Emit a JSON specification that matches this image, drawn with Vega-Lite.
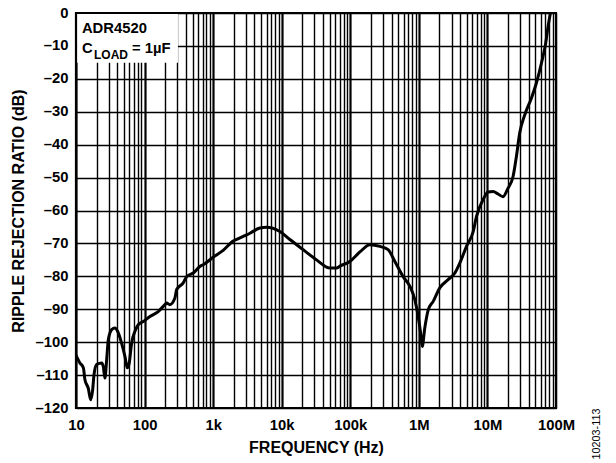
{
  "$schema": "https://vega.github.io/schema/vega-lite/v6.json",
  "width": 480,
  "height": 395,
  "autosize": {"type": "none"},
  "padding": {"left": 76, "top": 13, "right": 60, "bottom": 55},
  "background": "white",
  "config": {
    "font": "Liberation Sans",
    "view": {"stroke": "#000", "strokeWidth": 2.2},
    "axis": {
      "labelFont": "Liberation Sans",
      "titleFont": "Liberation Sans",
      "labelFontWeight": "bold",
      "titleFontWeight": "bold",
      "labelColor": "#000",
      "titleColor": "#000",
      "labelFontSize": 14.8,
      "titleFontSize": 16,
      "gridColor": "#000",
      "gridOpacity": 1,
      "ticks": false,
      "domain": false,
      "labelFlush": false,
      "labelOverlap": false
    }
  },
  "resolve": {"axis": {"x": "independent", "y": "independent"}},
  "layer": [
    {
      "data": {"values": [
        {"freq": 10, "rrr": -104}, {"freq": 11.4, "rrr": -106.3}, {"freq": 12.8, "rrr": -107.8},
        {"freq": 13.5, "rrr": -111.4}, {"freq": 15.1, "rrr": -114.0}, {"freq": 16.4, "rrr": -117.5},
        {"freq": 17.5, "rrr": -114.5}, {"freq": 18.3, "rrr": -109.9}, {"freq": 20.0, "rrr": -106.8},
        {"freq": 23.7, "rrr": -106.3}, {"freq": 25.0, "rrr": -107.4}, {"freq": 26.4, "rrr": -110.9},
        {"freq": 28.0, "rrr": -105.4}, {"freq": 29.6, "rrr": -99.3}, {"freq": 33.1, "rrr": -96.2},
        {"freq": 37.0, "rrr": -95.7}, {"freq": 41.4, "rrr": -97.2}, {"freq": 46.2, "rrr": -100.3},
        {"freq": 51.8, "rrr": -104.4}, {"freq": 56.0, "rrr": -107.8}, {"freq": 59.8, "rrr": -106.3},
        {"freq": 64.7, "rrr": -100.3}, {"freq": 72.4, "rrr": -96.7}, {"freq": 80.9, "rrr": -94.7},
        {"freq": 95.7, "rrr": -93.7}, {"freq": 120, "rrr": -92.2}, {"freq": 158, "rrr": -90.7},
        {"freq": 198, "rrr": -88.6}, {"freq": 210, "rrr": -88.1}, {"freq": 234, "rrr": -88.6},
        {"freq": 277, "rrr": -86.6}, {"freq": 294, "rrr": -84.0}, {"freq": 366, "rrr": -82.0},
        {"freq": 410, "rrr": -80.1}, {"freq": 513, "rrr": -79.0}, {"freq": 641, "rrr": -77.0},
        {"freq": 716, "rrr": -76.5}, {"freq": 1000, "rrr": -74.2}, {"freq": 1400, "rrr": -72.1},
        {"freq": 1960, "rrr": -69.3}, {"freq": 2200, "rrr": -68.8}, {"freq": 3080, "rrr": -67.4},
        {"freq": 3440, "rrr": -66.9}, {"freq": 4810, "rrr": -65.3}, {"freq": 6010, "rrr": -65.1},
        {"freq": 9400, "rrr": -66.4}, {"freq": 13150, "rrr": -68.8}, {"freq": 20560, "rrr": -71.9},
        {"freq": 32200, "rrr": -75.0}, {"freq": 50400, "rrr": -77.5}, {"freq": 63100, "rrr": -77.5},
        {"freq": 70500, "rrr": -76.9}, {"freq": 98600, "rrr": -75.5}, {"freq": 138000, "rrr": -72.6},
        {"freq": 193000, "rrr": -70.4}, {"freq": 270000, "rrr": -70.9}, {"freq": 356000, "rrr": -71.9},
        {"freq": 447000, "rrr": -75.5}, {"freq": 590000, "rrr": -80.1}, {"freq": 738000, "rrr": -83.0},
        {"freq": 873000, "rrr": -87.1}, {"freq": 977000, "rrr": -92.2}, {"freq": 1060000, "rrr": -97.2},
        {"freq": 1120000, "rrr": -101.3}, {"freq": 1220000, "rrr": -95.7}, {"freq": 1370000, "rrr": -90.2},
        {"freq": 1620000, "rrr": -87.6}, {"freq": 2020000, "rrr": -83.5}, {"freq": 2670000, "rrr": -81.0},
        {"freq": 3350000, "rrr": -79.0}, {"freq": 3950000, "rrr": -76.0}, {"freq": 4950000, "rrr": -70.9},
        {"freq": 6200000, "rrr": -66.4}, {"freq": 6930000, "rrr": -61.8}, {"freq": 8650000, "rrr": -56.7},
        {"freq": 10200000, "rrr": -54.4}, {"freq": 12100000, "rrr": -54.2}, {"freq": 14300000, "rrr": -55.0},
        {"freq": 16900000, "rrr": -55.8}, {"freq": 20000000, "rrr": -53.2}, {"freq": 23700000, "rrr": -49.6},
        {"freq": 26500000, "rrr": -43.5}, {"freq": 29600000, "rrr": -36.4}, {"freq": 35100000, "rrr": -30.9},
        {"freq": 43900000, "rrr": -25.8}, {"freq": 51900000, "rrr": -21.2}, {"freq": 61400000, "rrr": -15.2},
        {"freq": 71000000, "rrr": -9.0}, {"freq": 76700000, "rrr": -4.0}, {"freq": 83000000, "rrr": 0}
      ]},
      "mark": {"type": "line", "color": "#000", "strokeWidth": 3, "strokeJoin": "round", "strokeCap": "round", "interpolate": "monotone", "clip": true},
      "encoding": {
        "x": {
          "field": "freq", "type": "quantitative",
          "scale": {"type": "log", "domain": [10, 100000000], "nice": false},
          "axis": {
            "title": "FREQUENCY (Hz)",
            "values": [10,20,30,40,50,60,70,80,90,100,200,300,400,500,600,700,800,900,1000,2000,3000,4000,5000,6000,7000,8000,9000,10000,20000,30000,40000,50000,60000,70000,80000,90000,100000,200000,300000,400000,500000,600000,700000,800000,900000,1000000,2000000,3000000,4000000,5000000,6000000,7000000,8000000,9000000,10000000,20000000,30000000,40000000,50000000,60000000,70000000,80000000,90000000,100000000],
            "labelExpr": "datum.value == 10 ? '10' : datum.value == 100 ? '100' : datum.value == 1000 ? '1k' : datum.value == 10000 ? '10k' : datum.value == 100000 ? '100k' : datum.value == 1000000 ? '1M' : datum.value == 10000000 ? '10M' : datum.value == 100000000 ? '100M' : ''",
            "gridWidth": {"condition": {"test": "indexof([10,100,1000,10000,100000,1000000,10000000], datum.value) >= 0", "value": 2.2}, "value": 1.4},
            "labelPadding": 9,
            "titlePadding": 8
          }
        },
        "y": {
          "field": "rrr", "type": "quantitative",
          "scale": {"domain": [-120, 0], "nice": false},
          "axis": {
            "title": "RIPPLE REJECTION RATIO (dB)",
            "values": [-120,-110,-100,-90,-80,-70,-60,-50,-40,-30,-20,-10,0],
            "labelExpr": "datum.value < 0 ? '–' + abs(datum.value) : '0'",
            "gridWidth": 1.5,
            "labelPadding": 8,
            "titlePadding": 9
          }
        }
      }
    },
    {
      "data": {"values": [{}]},
      "mark": {"type": "rect", "color": "white"},
      "encoding": {
        "x": {"datum": 10.4, "axis": null}, "x2": {"datum": 307},
        "y": {"datum": -15.1, "axis": null}, "y2": {"datum": -0.34}
      }
    },
    {
      "data": {"values": [{}]},
      "mark": {"type": "text", "text": "ADR4520", "align": "left", "baseline": "alphabetic", "fontSize": 14.8, "fontWeight": "bold", "color": "#000"},
      "encoding": {"x": {"datum": 12.2, "axis": null}, "y": {"datum": -6.0, "axis": null}}
    },
    {
      "data": {"values": [{}]},
      "mark": {"type": "text", "text": "C", "align": "left", "baseline": "alphabetic", "fontSize": 14.8, "fontWeight": "bold", "color": "#000"},
      "encoding": {"x": {"datum": 12.2, "axis": null}, "y": {"datum": -12.1, "axis": null}}
    },
    {
      "data": {"values": [{}]},
      "mark": {"type": "text", "text": "LOAD", "align": "left", "baseline": "alphabetic", "fontSize": 12, "fontWeight": "bold", "color": "#000"},
      "encoding": {"x": {"datum": 18.3, "axis": null}, "y": {"datum": -13.9, "axis": null}}
    },
    {
      "data": {"values": [{}]},
      "mark": {"type": "text", "text": "= 1µF", "align": "left", "baseline": "alphabetic", "fontSize": 14.8, "fontWeight": "bold", "color": "#000"},
      "encoding": {"x": {"datum": 65.5, "axis": null}, "y": {"datum": -12.1, "axis": null}}
    },
    {
      "data": {"values": [{}]},
      "mark": {"type": "text", "text": "10203-113", "align": "center", "baseline": "middle", "angle": 270, "fontSize": 10.8, "color": "#000", "dx": -26, "dy": 41},
      "encoding": {"x": {"datum": 100000000, "axis": null}, "y": {"datum": -120, "axis": null}}
    }
  ]
}
